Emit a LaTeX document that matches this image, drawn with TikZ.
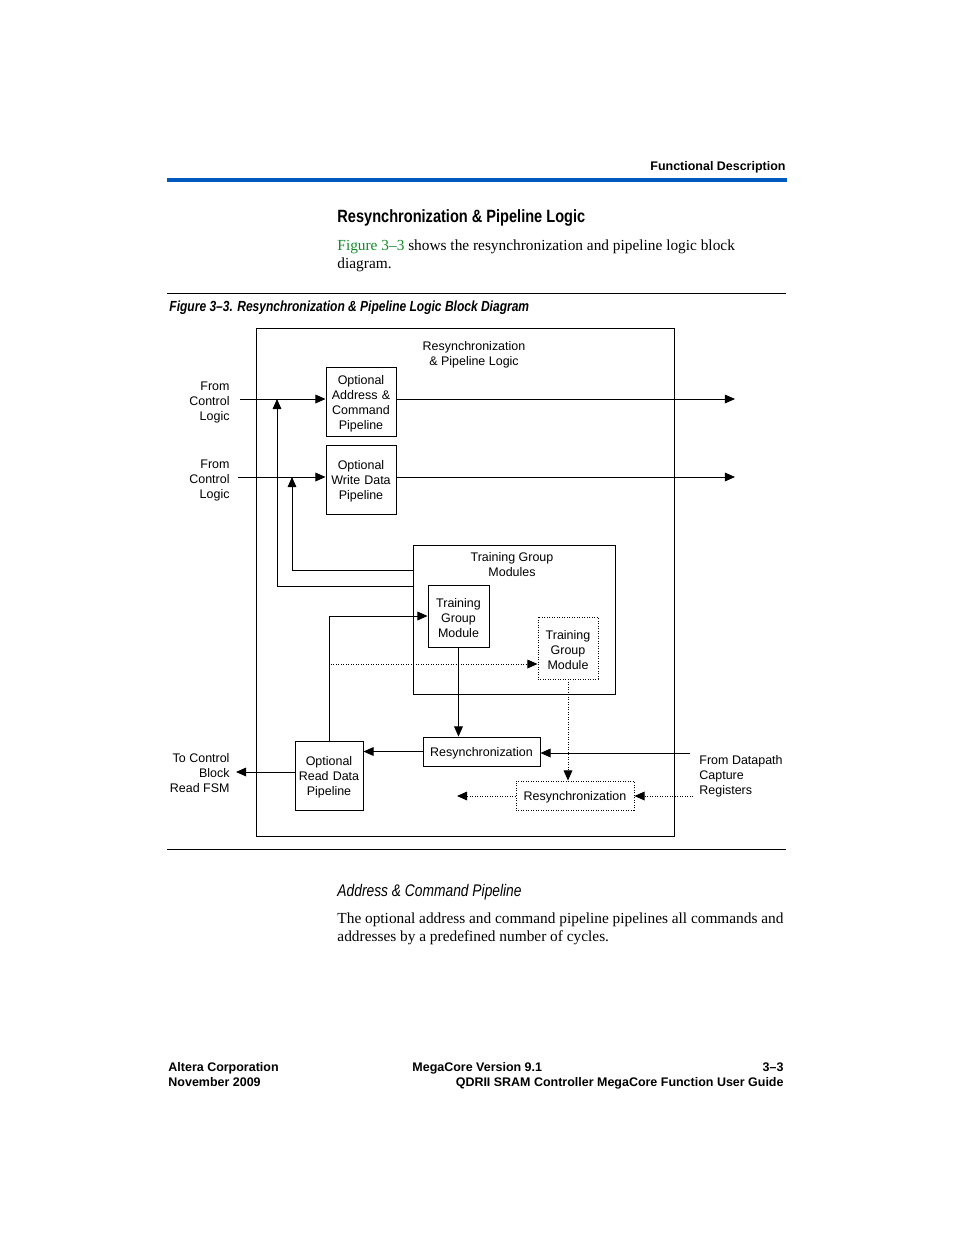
\documentclass[tikz,border=0pt]{standalone}
\usepackage{fontspec}
\setmainfont{Liberation Serif}
\setsansfont{Liberation Sans}
\newfontfamily\condsf[FakeStretch=0.82, Ligatures=TeX]{Liberation Sans}
\usetikzlibrary{arrows.meta}
\definecolor{rulesblue}{RGB}{0,90,190}
\definecolor{xrefgreen}{RGB}{20,140,40}
\newlength\px
\setlength\px{0.6415pt}

\begin{document}
\begin{tikzpicture}[x=0.6415pt, y=-0.6415pt, line width=0.6pt,
    font=\sffamily\fontsize{8}{9.62}\selectfont,
    lowered/.style={execute at begin node={\rule{0pt}{8.6pt}}},
    block/.style 2 args={draw, minimum width=#1*\px, minimum height=#2*\px,
      text width=(#1-4)*\px, align=center, inner sep=0pt, lowered},
    optblock/.style 2 args={block={#1}{#2}, densely dotted},
    feed/.style={-{Triangle[length=6.5pt, width=5.6pt]}},
    optfeed/.style={feed, densely dotted},
    port/.style={inner sep=0pt, align=right, anchor=east},
    body/.style={inner sep=0pt, anchor=base west, font=\rmfamily\fontsize{9.85}{12}\selectfont},
    foot/.style={inner sep=0pt, font=\sffamily\bfseries\fontsize{8}{9.62}\selectfont}]
  \fill[white] (0, 0) rectangle (954, 1235);
  \useasboundingbox (0, 0) rectangle (954, 1235);

  \node[foot, anchor=base east] (hdr) at (786, 170) {Functional Description};
  \draw[rulesblue, line width=2pt] (167, 180) -- (787, 180);

  \node[inner sep=0pt, anchor=base west, font=\condsf\bfseries\fontsize{11.4}{13}\selectfont]
    (sect) at (337, 222) {Resynchronization \& Pipeline Logic};
  \node[body] (intro1) at (337, 250)
    {\textcolor{xrefgreen}{Figure 3--3} shows the resynchronization and pipeline logic block};
  \node[body] (intro2) at (337, 268) {diagram.};

  \draw (167, 293) -- (786, 293);
  \node[inner sep=0pt, anchor=base west, font=\condsf\bfseries\itshape\fontsize{9.4}{11}\selectfont]
    (capt) at (169, 311) {Figure 3--3. Resynchronization \& Pipeline Logic Block Diagram};

  \node[draw, minimum width=418*\px, minimum height=508*\px] (rpl) at (465, 582) {};
  \node[align=center, inner sep=0pt] (rpltitle) at (474, 354.5) {Resynchronization\\\& Pipeline Logic};

  \node[block={70}{69}] (acp) at (361, 401.5) {Optional\\Address \&\\Command\\Pipeline};
  \node[block={70}{69}] (wdp) at (361, 479.5) {Optional\\Write Data\\Pipeline};

  \node[port] (ctl1) at (230, 402) {From\\Control\\Logic};
  \node[port] (ctl2) at (230, 480) {From\\Control\\Logic};
  \coordinate (cin1) at (240, 399);
  \coordinate (cin2) at (238, 477);
  \coordinate (aout) at (735, 399);
  \coordinate (wout) at (735, 477);
  \draw[feed] (cin1) -- (cin1 -| acp.west);
  \draw[feed] (cin2) -- (cin2 -| wdp.west);
  \draw[feed] (acp.east |- aout) -- (aout);
  \draw[feed] (wdp.east |- wout) -- (wout);

  \node[draw, minimum width=202*\px, minimum height=149*\px] (tgm) at (514, 619.5) {};
  \node[align=center, inner sep=0pt] (tgmtitle) at (512, 564.5) {Training Group\\Modules};
  \node[block={61}{62}] (tg1) at (458.5, 616) {Training\\Group\\Module};
  \node[optblock={60}{62}] (tg2) at (568, 648) {Training\\Group\\Module};

  \coordinate (fbA) at (277, 586);
  \coordinate (fbB) at (292, 570);
  \draw[feed] (tgm.west |- fbA) -- (fbA) -- (fbA |- cin1);
  \draw[feed] (tgm.west |- fbB) -- (fbB) -- (fbB |- cin2);

  \node[block={117}{29}] (rs1) at (481.5, 751.5) {Resynchronization};
  \node[optblock={118}{29}] (rs2) at (575, 795.5) {Resynchronization};
  \node[block={68}{69}] (rdp) at (329, 775.5) {Optional\\Read Data\\Pipeline};

  \draw[feed] (rdp.north) |- (tg1.west);
  \coordinate (dsplit) at (331, 664);
  \draw[optfeed] (dsplit) -- (dsplit -| tg2.west);
  \draw[feed] (tg1.south) -- (tg1.south |- rs1.north);
  \draw[optfeed] (tg2.south) -- (tg2.south |- rs2.north);
  \draw[feed] (rs1.west) -- (rs1.west -| rdp.east);

  \node[port] (toctl) at (230, 773) {To Control\\Block\\Read FSM};
  \coordinate (rdout) at (236, 772);
  \draw[feed] (rdp.west |- rdout) -- (rdout);

  \node[inner sep=0pt, align=left, anchor=west] (dpath) at (699, 776)
    {From Datapath\\Capture\\Registers};
  \coordinate (dpin1) at (690, 753);
  \coordinate (dpin2) at (693, 796);
  \coordinate (rsout2) at (457, 796);
  \draw[feed] (dpin1) -- (dpin1 -| rs1.east);
  \draw[optfeed] (dpin2) -- (dpin2 -| rs2.east);
  \draw[optfeed] (rs2.west |- rsout2) -- (rsout2);

  \draw (167, 849) -- (786, 849);

  \node[inner sep=0pt, anchor=base west, font=\condsf\itshape\fontsize{10.8}{13}\selectfont]
    (sub) at (337, 896) {Address \& Command Pipeline};
  \node[body] (text1) at (337, 923)
    {\makebox[446\px][s]{The optional address and command pipeline pipelines all commands and}};
  \node[body] (text2) at (337, 941) {addresses by a predefined number of cycles.};

  \node[foot, anchor=base west] (corp) at (168, 1071) {Altera Corporation};
  \node[foot, anchor=base west] (date) at (168, 1086) {November 2009};
  \node[foot, anchor=base west] (vers) at (412, 1071) {MegaCore Version 9.1};
  \node[foot, anchor=base east] (page) at (784, 1071) {3--3};
  \node[foot, anchor=base east] (guide) at (784, 1086) {QDRII SRAM Controller MegaCore Function User Guide};
\end{tikzpicture}
\end{document}
